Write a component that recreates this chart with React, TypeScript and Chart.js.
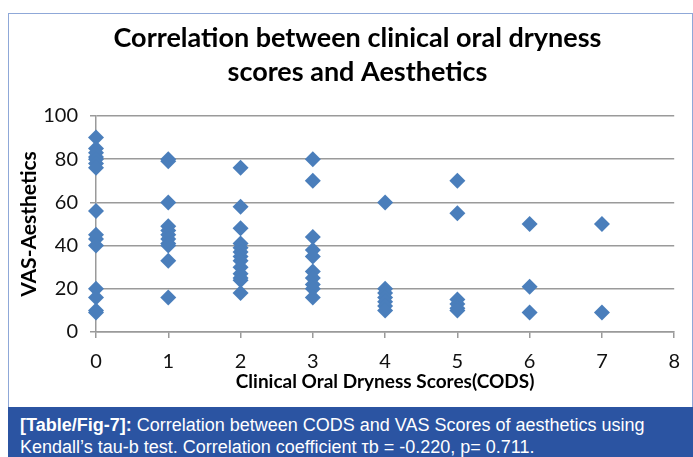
import React, { useEffect, useRef } from "react";
import { Chart, registerables } from "chart.js";

Chart.register(...registerables);

const titleLines = ["Correlation between clinical oral dryness", "scores and Aesthetics"];
const xAxisTitle = "Clinical Oral Dryness Scores(CODS)";
const yAxisTitle = "VAS-Aesthetics";
const codsScores = [0, 1, 2, 3, 4, 5, 6, 7];
const vasAtCods0 = [90, 85, 83, 81, 80, 78, 76, 56, 45, 43, 40, 20, 16, 10, 9];
const vasAtCods1 = [80, 79, 60, 49, 47, 45, 43, 41, 40, 33, 16];
const vasAtCods2 = [76, 58, 48, 41, 39, 37, 35, 33, 30, 27, 25, 24, 18];
const vasAtCods3 = [80, 70, 44, 38, 35, 28, 25, 22, 20, 16];
const vasAtCods4 = [60, 20, 18, 16, 14, 12, 10];
const vasAtCods5 = [70, 55, 15, 13, 11, 10];
const vasAtCods6 = [50, 21, 9];
const vasAtCods7 = [50, 9];
const vasByCods = [vasAtCods0, vasAtCods1, vasAtCods2, vasAtCods3, vasAtCods4, vasAtCods5, vasAtCods6, vasAtCods7];
const captionLabel = "[Table/Fig-7]:";
const captionText =
  " Correlation between CODS and VAS Scores of aesthetics using Kendall\u2019s tau-b test. Correlation coefficient \u03c4b = -0.220, p= 0.711.";

const titleShift = {
  id: "titleShift",
  afterLayout(chart: any) {
    const t = chart.titleBlock;
    if (t) {
      t.left += 10;
      t.right += 10;
    }
  },
};

export default function App() {
  const ref = useRef<HTMLCanvasElement | null>(null);

  useEffect(() => {
    if (!ref.current) return;
    const points: { x: number; y: number }[] = [];
    codsScores.forEach((c, i) => {
      vasByCods[i].forEach((v) => points.push({ x: c, y: v }));
    });
    const chart = new Chart(ref.current, {
      type: "scatter",
      data: {
        datasets: [
          {
            label: "VAS-Aesthetics",
            data: points,
            pointStyle: "rectRot",
            pointRadius: 8,
            pointHoverRadius: 8,
            backgroundColor: "#4a7ebb",
            borderColor: "#4a7ebb",
            borderWidth: 0,
            clip: false,
          },
        ],
      },
      plugins: [titleShift],
      options: {
        responsive: false,
        animation: false,
        layout: { padding: { left: 0, right: 6, top: 0, bottom: 0 } },
        plugins: {
          legend: { display: false },
          tooltip: { enabled: false },
          title: {
            display: true,
            text: titleLines,
            color: "#000",
            font: { family: "Lato", size: 27, weight: "bold", lineHeight: 34 / 27 },
            padding: { top: 7, bottom: 27 },
          },
        },
        scales: {
          x: {
            type: "linear",
            min: 0,
            max: 8,
            ticks: {
              stepSize: 1,
              color: "#111",
              font: { family: "Lato", size: 20 },
              padding: 12,
              maxRotation: 0,
            },
            grid: {
              drawOnChartArea: false,
              drawTicks: true,
              tickLength: 6,
              color: "#9a9a9a",
              lineWidth: 1.5,
            },
            border: { display: true, color: "#9a9a9a", width: 1.5 },
            title: {
              display: true,
              text: xAxisTitle,
              color: "#000",
              font: { family: "Lato", size: 19, weight: "bold" },
              padding: { top: 0, bottom: 14 },
            },
            afterFit: (s: any) => {
              s.height = 75;
            },
          },
          y: {
            type: "linear",
            min: 0,
            max: 100,
            ticks: {
              stepSize: 20,
              color: "#111",
              font: { family: "Lato", size: 20 },
              padding: 12,
            },
            grid: {
              color: "#9a9a9a",
              lineWidth: 1.5,
              tickLength: 6,
            },
            border: { display: true, color: "#9a9a9a", width: 1.5 },
            title: {
              display: true,
              text: yAxisTitle,
              color: "#000",
              font: { family: "Lato", size: 21, weight: "bold" },
              padding: { top: 8, bottom: 0 },
            },
            afterFit: (s: any) => {
              s.width = 87;
            },
          },
        },
      },
    });
    return () => chart.destroy();
  }, []);

  return (
    <div style={{ position: "absolute", left: 0, top: 0, width: 693, height: 457, background: "#fff", overflow: "hidden" }}>
      <div
        style={{
          position: "absolute",
          left: 8,
          top: 13,
          width: 685,
          height: 394,
          boxSizing: "border-box",
          borderLeft: "1.5px solid #8fa8d8",
          borderTop: "1.5px solid #8fa8d8",
          borderRight: "1.5px solid #8fa8d8",
        }}
      />
      <canvas
        ref={ref}
        width={683}
        height={393}
        style={{ position: "absolute", left: 9, top: 14, width: 683, height: 393 }}
      />
      <div
        style={{
          position: "absolute",
          left: 8,
          top: 407,
          width: 685,
          height: 50,
          background: "#2b54a2",
          color: "#fff",
          fontFamily: "'Liberation Sans', Arial, sans-serif",
          fontSize: 18,
          lineHeight: "22px",
          padding: "7px 30px 0 12px",
          boxSizing: "border-box",
        }}
      >
        <b>{captionLabel}</b>
        {captionText}
      </div>
    </div>
  );
}
